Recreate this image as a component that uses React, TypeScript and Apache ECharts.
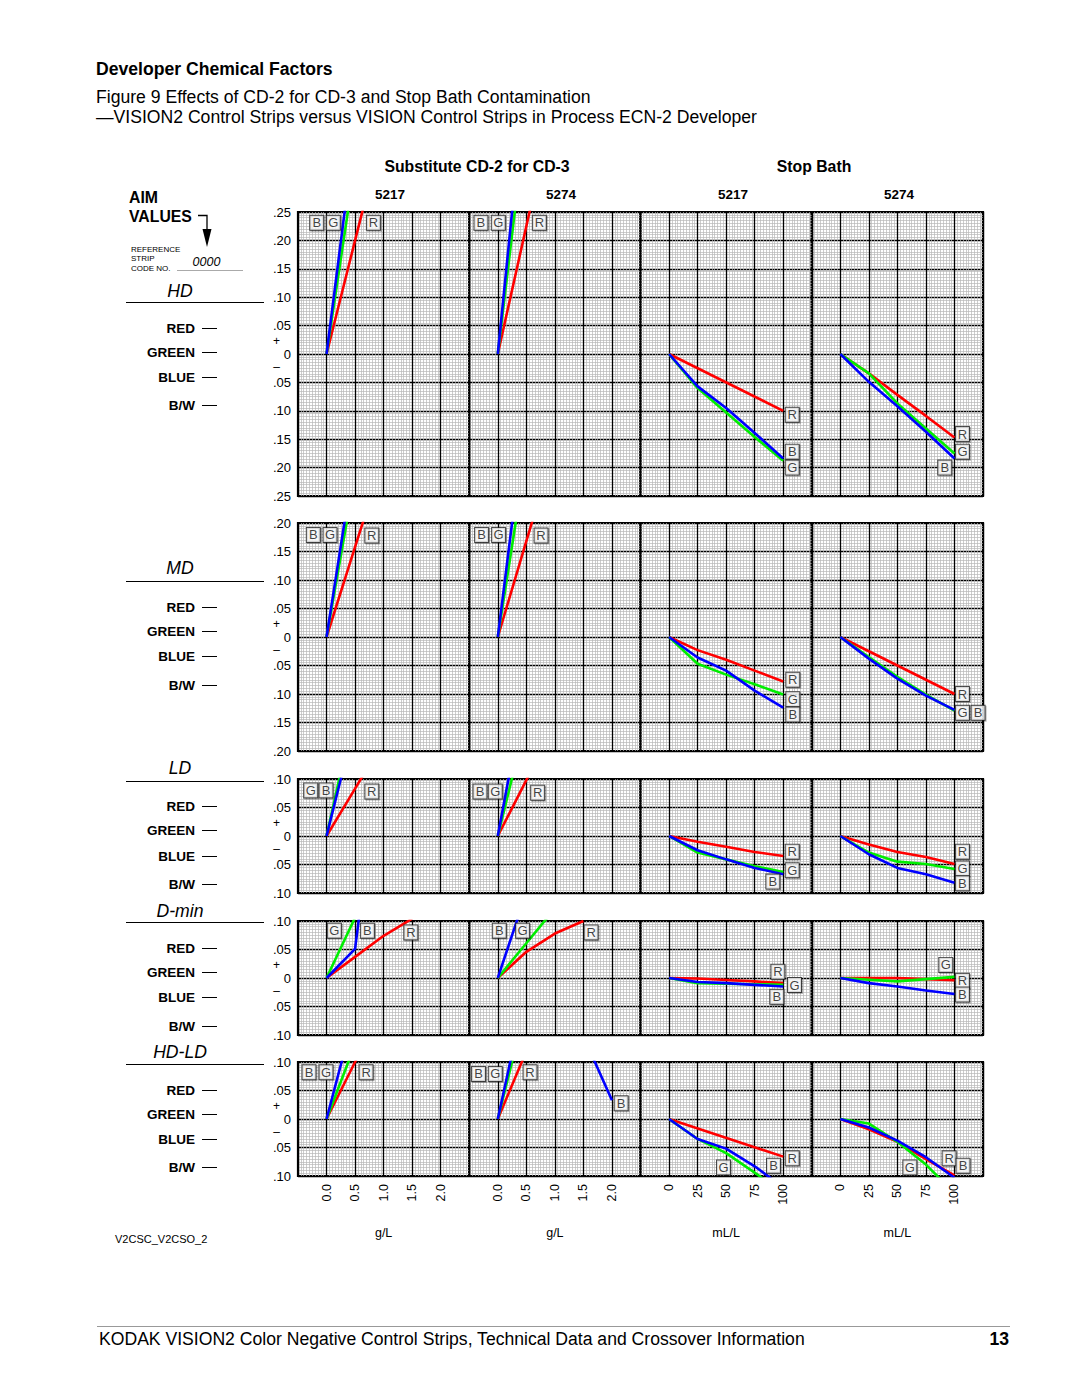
import React, { useEffect, useRef } from 'react';
import * as echarts from 'echarts';

const FONT = '"Liberation Sans", Arial, Helvetica, sans-serif';

// ---------- layout of the panels ----------
const ROW_NAMES = ['HD', 'MD', 'LD', 'D-min', 'HD-LD'];
const ROW_TOP = [212, 523, 779, 921, 1062];
const ROW_HEIGHT = [284, 228, 114, 114, 114];
const ROW_LIMIT = [0.25, 0.2, 0.1, 0.1, 0.1];
const COL_LEFT = [298, 469.25, 640.5, 811.75];
const COL_WIDTH = 171.25;
const COL_FILM = ['5217', '5274', '5217', '5274'];
const COL_UNIT = ['g/L', 'g/L', 'mL/L', 'mL/L'];
const GL_TICKS = ['0.0', '0.5', '1.0', '1.5', '2.0'];
const ML_TICKS = ['0', '25', '50', '75', '100'];
const CHANNELS = ['RED', 'GREEN', 'BLUE', 'B/W'];

// ---------- data: [amount, density change]; columns: CD-2 5217, CD-2 5274, stop bath 5217, stop bath 5274 ----------
const HD_RED = [
  [[0, 0], [0.5, 0.2], [1, 0.4]],
  [[0, 0], [0.5, 0.225], [1, 0.45]],
  [[0, 0], [100, -0.1]],
  [[0, 0], [25, -0.034], [50, -0.072], [75, -0.109], [100, -0.147]],
];
const HD_GREEN = [
  [[0, 0], [0.5, 0.335]],
  [[0, 0], [0.5, 0.42]],
  [[0, 0], [25, -0.06], [50, -0.103], [75, -0.146], [100, -0.188]],
  [[0, 0], [25, -0.034], [50, -0.087], [75, -0.131], [100, -0.175]],
];
const HD_BLUE = [
  [[0, 0], [0.5, 0.395]],
  [[0, 0], [0.5, 0.5]],
  [[0, 0], [25, -0.057], [50, -0.095], [75, -0.139], [100, -0.184]],
  [[0, 0], [25, -0.049], [50, -0.092], [75, -0.137], [100, -0.184]],
];
const MD_RED = [
  [[0, 0], [0.5, 0.158], [1, 0.316]],
  [[0, 0], [0.5, 0.168], [1, 0.336]],
  [[0, 0], [25, -0.023], [50, -0.04], [75, -0.059], [100, -0.078]],
  [[0, 0], [100, -0.1]],
];
const MD_GREEN = [
  [[0, 0], [0.5, 0.285]],
  [[0, 0], [0.5, 0.32]],
  [[0, 0], [25, -0.047], [50, -0.066], [75, -0.083], [100, -0.101]],
  [[0, 0], [25, -0.035], [50, -0.07], [75, -0.101], [100, -0.129]],
];
const MD_BLUE = [
  [[0, 0], [0.5, 0.32]],
  [[0, 0], [0.5, 0.4]],
  [[0, 0], [25, -0.036], [50, -0.059], [75, -0.094], [100, -0.124]],
  [[0, 0], [25, -0.038], [50, -0.073], [75, -0.103], [100, -0.128]],
];
const LD_RED = [
  [[0, 0], [0.5, 0.083], [1, 0.167]],
  [[0, 0], [0.5, 0.098], [1, 0.196]],
  [[0, 0], [25, -0.01], [50, -0.019], [75, -0.028], [100, -0.035]],
  [[0, 0], [25, -0.015], [50, -0.028], [75, -0.037], [100, -0.049]],
];
const LD_GREEN = [
  [[0, 0], [0.5, 0.225]],
  [[0, 0], [0.5, 0.203]],
  [[0, 0], [25, -0.029], [50, -0.041], [75, -0.053], [100, -0.063]],
  [[0, 0], [25, -0.029], [50, -0.045], [75, -0.049], [100, -0.058]],
];
const LD_BLUE = [
  [[0, 0], [0.5, 0.2]],
  [[0, 0], [0.5, 0.267]],
  [[0, 0], [25, -0.025], [50, -0.041], [75, -0.056], [100, -0.067]],
  [[0, 0], [25, -0.032], [50, -0.056], [75, -0.067], [100, -0.082]],
];
const DMIN_RED = [
  [[0, 0], [0.5, 0.037], [1, 0.074], [1.5, 0.104]],
  [[0, 0], [0.5, 0.046], [1, 0.078], [1.5, 0.1]],
  [[0, 0], [25, -0.001], [50, -0.0035], [75, -0.006], [100, -0.009]],
  [[0, 0], [25, 0], [50, 0], [75, -0.002], [100, -0.004]],
];
const DMIN_GREEN = [
  [[0, 0], [0.5, 0.106]],
  [[0, 0], [0.5, 0.061], [1, 0.122]],
  [[0, 0], [25, -0.009], [50, -0.01], [75, -0.011], [100, -0.012]],
  [[0, 0], [25, -0.003], [50, -0.006], [75, -0.002], [100, 0.002]],
];
const DMIN_BLUE = [
  [[0, 0], [0.5, 0.051], [1, 0.45]],
  [[0, 0], [0.5, 0.15]],
  [[0, 0], [25, -0.007], [50, -0.009], [75, -0.012], [100, -0.015]],
  [[0, 0], [25, -0.009], [50, -0.015], [75, -0.022], [100, -0.028]],
];
const HDLD_RED = [
  [[0, 0], [0.5, 0.1], [1, 0.2]],
  [[0, 0], [0.5, 0.119]],
  [[0, 0], [100, -0.066]],
  [[0, 0], [25, -0.018], [50, -0.04], [75, -0.0705], [100, -0.099]],
];
const HDLD_GREEN = [
  [[0, 0], [0.5, 0.131]],
  [[0, 0], [0.5, 0.2]],
  [[0, 0], [25, -0.035], [50, -0.06], [75, -0.094], [100, -0.13]],
  [[0, 0], [25, -0.008], [50, -0.04], [75, -0.08], [100, -0.13]],
];
const HDLD_BLUE = [
  [[0, 0], [0.5, 0.19]],
  [[0, 0], [0.5, 0.23], [1.5, 0.145], [2, 0.033]],
  [[0, 0], [25, -0.035], [50, -0.052], [75, -0.083], [100, -0.12]],
  [[0, 0], [25, -0.015], [50, -0.038], [75, -0.067], [100, -0.103]],
];

// boxed curve tags: [letter, amount, density]
const HD_TAGS = [
  [['B', -0.172, 0.231], ['G', 0.119, 0.231], ['R', 0.821, 0.231]],
  [['B', -0.295, 0.231], ['G', 0.009, 0.231], ['R', 0.728, 0.231]],
  [['R', 107.9, -0.107], ['B', 107.9, -0.172], ['G', 107.9, -0.2]],
  [['R', 107, -0.141], ['G', 107, -0.172], ['B', 91.5, -0.2]],
];
const MD_TAGS = [
  [['B', -0.232, 0.179], ['G', 0.061, 0.179], ['R', 0.793, 0.178]],
  [['B', -0.284, 0.179], ['G', 0.014, 0.179], ['R', 0.758, 0.178]],
  [['R', 108.4, -0.075], ['G', 108.4, -0.109], ['B', 108.4, -0.136]],
  [['R', 107, -0.1], ['G', 107, -0.133], ['B', 120.7, -0.133]],
];
const LD_TAGS = [
  [['G', -0.277, 0.08], ['B', -0.009, 0.08], ['R', 0.793, 0.078]],
  [['B', -0.312, 0.078], ['G', -0.044, 0.078], ['R', 0.698, 0.076]],
  [['R', 107.9, -0.0275], ['G', 107.9, -0.06], ['B', 90.9, -0.08]],
  [['R', 107, -0.0275], ['G', 107, -0.057], ['B', 107, -0.083]],
];
const DMIN_TAGS = [
  [['G', 0.137, 0.083], ['B', 0.716, 0.083], ['R', 1.477, 0.08]],
  [['B', 0.026, 0.083], ['G', 0.435, 0.083], ['R', 1.635, 0.08]],
  [['R', 95.3, 0.011], ['G', 109.9, -0.0123], ['B', 94.4, -0.033]],
  [['G', 92.4, 0.023], ['R', 107, -0.005], ['B', 107, -0.029]],
];
const HDLD_TAGS = [
  [['B', -0.307, 0.082], ['G', -0.009, 0.082], ['R', 0.693, 0.082]],
  [['B', -0.337, 0.079], ['G', -0.044, 0.079], ['R', 0.565, 0.082], ['B', 2.161, 0.0275]],
  [['R', 107.9, -0.069], ['B', 91.5, -0.082], ['G', 47.7, -0.085]],
  [['G', 60.9, -0.085], ['R', 95.3, -0.069], ['B', 107.5, -0.082]],
];

const ROW_DATA = [
  { red: HD_RED, green: HD_GREEN, blue: HD_BLUE, tags: HD_TAGS },
  { red: MD_RED, green: MD_GREEN, blue: MD_BLUE, tags: MD_TAGS },
  { red: LD_RED, green: LD_GREEN, blue: LD_BLUE, tags: LD_TAGS },
  { red: DMIN_RED, green: DMIN_GREEN, blue: DMIN_BLUE, tags: DMIN_TAGS },
  { red: HDLD_RED, green: HDLD_GREEN, blue: HDLD_BLUE, tags: HDLD_TAGS },
];

// left-hand labels layout
const ROW_NAME_Y = [291, 568, 768, 911, 1052];
const ROW_RULE_Y = [302, 581, 781, 922, 1064];
const ROW_CHANNEL_Y = [
  [328, 352, 377, 405],
  [607, 631, 656, 685],
  [806, 830, 856, 884],
  [948, 972, 997, 1026],
  [1090, 1114, 1139, 1167],
];

const LINE_COLORS = { red: '#ff0000', green: '#00ee00', blue: '#0000ff' };

function txt(text: string, x: number, y: number, size: number, opts: any = {}) {
  return {
    type: 'text',
    x,
    y,
    silent: true,
    style: {
      text,
      fill: opts.fill || '#000',
      fontSize: size,
      fontFamily: FONT,
      fontWeight: opts.bold ? 'bold' : 'normal',
      fontStyle: opts.italic ? 'italic' : 'normal',
      align: opts.align || 'left',
      verticalAlign: 'middle',
    },
  };
}

function buildOption() {
  const grid: any[] = [];
  const xAxis: any[] = [];
  const yAxis: any[] = [];
  const series: any[] = [];

  for (let r = 0; r < 5; r++) {
    for (let c = 0; c < 4; c++) {
      const idx = grid.length;
      const isGL = c < 2;
      grid.push({
        left: COL_LEFT[c],
        top: ROW_TOP[r],
        width: COL_WIDTH,
        height: ROW_HEIGHT[r],
        show: true,
        borderColor: '#000',
        borderWidth: 2.2,
        backgroundColor: '#fff',
      });
      xAxis.push({
        gridIndex: idx,
        type: 'value',
        min: isGL ? -0.5 : -25,
        max: isGL ? 2.5 : 125,
        interval: isGL ? 0.5 : 25,
        axisLine: { show: false },
        axisTick: { show: false },
        axisLabel: {
          show: r === 4,
          rotate: 90,
          margin: 8,
          fontSize: 12.5,
          fontFamily: FONT,
          color: '#000',
          formatter: (v: number) => {
            if (isGL) {
              const s = v.toFixed(1);
              return GL_TICKS.includes(s) ? s : '';
            }
            const s = String(Math.round(v));
            return ML_TICKS.includes(s) ? s : '';
          },
        },
        splitLine: { show: true, lineStyle: { color: '#000', width: 1.3 } },
        minorTick: { show: false, splitNumber: 10 },
        minorSplitLine: { show: true, lineStyle: { color: '#b8b8b8', width: 0.7 } },
        name: r === 4 ? COL_UNIT[c] : '',
        nameLocation: 'middle',
        nameGap: 50,
        nameTextStyle: { fontSize: 12.5, fontFamily: FONT, color: '#000' },
      });
      const lim = ROW_LIMIT[r];
      yAxis.push({
        gridIndex: idx,
        type: 'value',
        min: -lim,
        max: lim,
        interval: 0.05,
        axisLine: { show: false },
        axisTick: { show: false },
        axisLabel: {
          show: c === 0,
          margin: 7,
          fontSize: 13,
          fontFamily: FONT,
          color: '#000',
          formatter: (v: number) => {
            const rv = Math.round(v * 100) / 100;
            if (rv === 0) return '{s|+}\n{z|0}\n{s|\u2013}';
            return Math.abs(rv).toFixed(2).slice(1);
          },
          rich: {
            s: { fontSize: 12, fontFamily: FONT, lineHeight: 13, padding: [0, 11, 0, 0], color: '#000' },
            z: { fontSize: 13, fontFamily: FONT, lineHeight: 13, color: '#000' },
          },
        },
        splitLine: { show: true, lineStyle: { color: '#000', width: 1.3 } },
        minorTick: { show: false, splitNumber: 10 },
        minorSplitLine: { show: true, lineStyle: { color: '#b8b8b8', width: 0.7 } },
      });

      const rd: any = ROW_DATA[r];
      (['red', 'green', 'blue'] as const).forEach((key) => {
        series.push({
          type: 'line',
          xAxisIndex: idx,
          yAxisIndex: idx,
          data: rd[key][c],
          symbol: 'none',
          clip: true,
          silent: true,
          z: 3,
          lineStyle: { color: (LINE_COLORS as any)[key], width: 2.6 },
        });
      });
      series.push({
        type: 'scatter',
        xAxisIndex: idx,
        yAxisIndex: idx,
        symbolSize: 0,
        silent: true,
        z: 5,
        data: rd.tags[c].map((t: any) => ({ name: t[0], value: [t[1], t[2]] })),
        label: {
          show: true,
          position: 'inside',
          formatter: (p: any) => p.name,
          fontSize: 13,
          fontFamily: FONT,
          color: '#111',
          backgroundColor: '#fff',
          borderColor: '#222',
          borderWidth: 1,
          padding: [1, 1, 0, 1],
          width: 11,
          height: 13,
          lineHeight: 13,
          align: 'center',
          shadowColor: 'rgba(0,0,0,0.35)',
          shadowOffsetX: 1,
          shadowOffsetY: 1,
          shadowBlur: 0,
        },
      });
    }
  }

  const graphic: any[] = [
    txt('Developer Chemical Factors', 96, 69, 17.6, { bold: true }),
    txt('Figure 9 Effects of CD-2 for CD-3 and Stop Bath Contamination', 96, 97, 17.6),
    txt('\u2014VISION2 Control Strips versus VISION Control Strips in Process ECN-2 Developer', 96, 117, 17.6),
    txt('Substitute CD-2 for CD-3', 477, 166, 15.8, { bold: true, align: 'center' }),
    txt('Stop Bath', 814, 166, 15.8, { bold: true, align: 'center' }),
    txt(COL_FILM[0], 390, 194, 13.5, { bold: true, align: 'center' }),
    txt(COL_FILM[1], 561, 194, 13.5, { bold: true, align: 'center' }),
    txt(COL_FILM[2], 733, 194, 13.5, { bold: true, align: 'center' }),
    txt(COL_FILM[3], 899, 194, 13.5, { bold: true, align: 'center' }),
    txt('AIM', 129, 197, 15.8, { bold: true }),
    txt('VALUES', 129, 216, 15.8, { bold: true }),
    {
      type: 'polyline',
      silent: true,
      shape: { points: [[198, 215.5], [207, 215.5], [207, 231]] },
      style: { stroke: '#000', lineWidth: 1.3, fill: 'none' },
    },
    {
      type: 'polygon',
      silent: true,
      shape: { points: [[202.5, 229], [211.5, 229], [207, 247]] },
      style: { fill: '#000' },
    },
    txt('REFERENCE', 131, 249, 8),
    txt('STRIP', 131, 258.5, 8),
    txt('CODE NO.', 131, 268, 8),
    txt('0000', 206.5, 262, 12.5, { italic: true, align: 'center' }),
    {
      type: 'line',
      silent: true,
      shape: { x1: 177, y1: 270.5, x2: 243, y2: 270.5 },
      style: { stroke: '#aaa', lineWidth: 1 },
    },
    txt('V2CSC_V2CSO_2', 115, 1239, 11),
    {
      type: 'line',
      silent: true,
      shape: { x1: 97, y1: 1326.5, x2: 1010, y2: 1326.5 },
      style: { stroke: '#999', lineWidth: 1 },
    },
    txt('KODAK VISION2 Color Negative Control Strips, Technical Data and Crossover Information', 99, 1339, 17.6),
    txt('13', 1009, 1339, 17.6, { bold: true, align: 'right' }),
  ];

  for (let r = 0; r < 5; r++) {
    graphic.push(txt(ROW_NAMES[r], 180, ROW_NAME_Y[r], 17.6, { italic: true, align: 'center' }));
    graphic.push({
      type: 'line',
      silent: true,
      shape: { x1: 126, y1: ROW_RULE_Y[r] + 0.5, x2: 264, y2: ROW_RULE_Y[r] + 0.5 },
      style: { stroke: '#000', lineWidth: 1.2 },
    });
    CHANNELS.forEach((ch, i) => {
      const y = ROW_CHANNEL_Y[r][i];
      graphic.push(txt(ch, 195, y, 13.5, { bold: true, align: 'right' }));
      graphic.push({
        type: 'line',
        silent: true,
        shape: { x1: 202, y1: y + 0.5, x2: 217, y2: y + 0.5 },
        style: { stroke: '#000', lineWidth: 1 },
      });
    });
  }

  return {
    animation: false,
    backgroundColor: '#fff',
    grid,
    xAxis,
    yAxis,
    series,
    graphic,
  };
}

export default function App() {
  const ref = useRef<HTMLDivElement>(null);
  useEffect(() => {
    document.body.style.margin = '0';
    if (!ref.current) return;
    const chart = echarts.init(ref.current, null, { renderer: 'svg' });
    chart.setOption(buildOption() as any);
    return () => chart.dispose();
  }, []);
  return <div ref={ref} style={{ width: 1080, height: 1397 }} />;
}
